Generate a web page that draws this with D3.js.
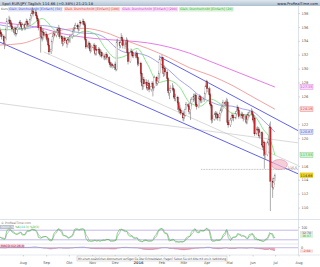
<!DOCTYPE html>
<html><head><meta charset="utf-8">
<script src="https://cdn.jsdelivr.net/npm/d3@7"></script>
<style>
body{margin:0;background:#fff;}
svg{display:block;font-family:"DejaVu Sans",sans-serif;}
</style></head><body>
<div id="chart"></div>
<script>
// daily EUR/JPY, Jul 2015 - Jun 2016 (one row per month)
const closes = [
 135.2,135.0,134.6,134.0,133.6,134.4,135.6,136.8,137.0,136.6,136.5,136.1,135.7,135.2,135.8,135.0,135.6,135.9,136.6,136.4,136.1,135.8,136.3,
 135.9,136.4,136.8,136.5,136.3,137.1,137.6,138.0,138.3,137.9,138.1,137.6,137.2,136.9,135.9,134.6,135.3,134.4,135.2,134.8,134.9,
 134.2,134.3,133.4,132.4,132.7,133.9,134.6,135.0,134.8,135.2,135.6,135.4,135.8,134.6,134.3,133.6,133.9,134.4,134.0,133.6,134.2,134.1,
 134.2,134.6,134.9,135.4,135.7,135.9,136.2,136.0,135.7,136.1,136.6,136.5,136.8,136.5,136.3,134.2,133.1,133.4,133.6,132.9,132.6,133.1,
 133.0,133.3,132.2,132.8,132.6,132.8,132.2,132.0,132.3,131.8,131.8,131.6,131.7,132.0,131.6,130.9,130.6,130.4,130.6,130.4,130.2,
 130.6,129.9,133.8,133.8,133.3,133.7,134.5,134.0,133.3,133.4,133.7,134.0,132.3,131.0,132.3,132.5,132.3,131.8,131.8,132.1,132.2,131.6,130.6,
 130.8,129.3,128.0,127.5,128.4,127.8,128.0,127.2,127.6,127.9,127.0,127.4,127.9,127.2,127.4,128.7,127.9,128.2,128.6,129.3,131.4,
 131.6,130.1,129.3,130.0,129.5,128.6,126.8,126.5,126.9,127.1,127.2,127.0,125.9,125.7,125.9,125.1,124.1,124.2,124.0,123.6,122.9,
 123.4,123.3,124.1,124.8,124.6,123.8,124.1,125.0,125.5,126.0,125.7,126.2,124.8,124.5,125.7,126.0,125.5,125.4,125.6,125.7,126.4,127.5,128.1,
 127.1,126.3,124.9,124.7,122.6,122.7,123.4,123.5,123.0,123.4,122.9,123.5,124.0,124.1,124.6,125.1,124.9,125.1,125.2,122.3,121.9,
 122.6,122.8,123.3,123.0,122.9,123.5,123.8,124.4,124.0,123.1,123.2,123.4,123.2,122.8,123.2,122.3,122.7,123.4,123.3,123.7,123.8,123.4,
 122.6,122.9,120.6,121.3,121.1,121.2,120.3,120.8,119.0,118.7,119.4,117.5,117.6,119.3,119.4,119.8,121.6,113.8,112.9,113.6,114.2,114.66
];
const highs = [
 135.9,135.6,135.3,134.9,134.3,134.7,135.9,137.3,137.6,137.4,137.0,136.9,136.4,135.9,136.1,136.0,135.9,136.3,136.9,137.0,136.7,136.4,136.6,
 136.6,136.7,137.2,137.1,136.9,137.4,137.9,138.5,138.8,138.6,138.5,138.4,137.9,137.5,137.1,136.2,136.1,135.8,135.7,135.6,135.4,
 135.2,134.8,134.6,133.7,133.0,134.2,135.0,135.4,135.3,135.5,135.9,135.9,136.3,136.0,134.9,134.6,134.3,134.7,134.6,134.2,134.5,134.5,
 134.6,135.0,135.2,135.7,136.0,136.3,136.6,136.5,136.2,136.4,137.0,136.9,137.2,137.1,136.8,136.7,134.5,133.8,134.0,133.8,133.2,133.4,
 133.5,133.7,133.5,133.1,133.4,133.1,133.0,132.5,132.7,132.5,132.2,132.0,132.1,132.4,132.2,131.8,131.2,130.9,130.9,130.8,130.7,
 131.0,130.8,134.2,134.3,134.0,134.0,135.1,134.8,134.3,133.9,134.1,134.5,134.3,132.9,132.6,132.9,132.8,132.5,132.0,132.4,132.6,132.4,131.8,
 131.0,131.0,129.6,128.3,128.8,128.8,128.5,128.3,128.0,128.4,128.1,127.8,128.2,128.1,127.9,129.0,128.9,128.6,129.1,129.7,131.9,
 132.0,131.7,130.4,130.5,130.3,129.8,128.8,127.3,127.0,127.6,127.9,127.6,127.2,126.3,126.4,126.1,125.3,124.6,124.8,124.4,124.0,
 123.8,123.8,124.4,125.2,125.1,124.8,124.4,125.6,125.9,126.4,126.3,126.5,126.4,125.2,126.0,126.3,126.2,125.8,125.9,126.0,126.7,127.7,128.4,
 128.3,127.4,126.5,125.3,125.0,123.3,123.7,123.9,123.8,123.8,123.6,123.8,124.4,124.6,125.1,125.5,125.3,125.5,125.8,125.6,122.6,
 122.9,123.2,123.6,123.5,123.4,123.8,124.2,124.8,124.6,124.2,123.6,123.8,123.7,123.4,123.5,123.4,123.0,123.7,123.7,124.0,124.3,124.1,
 123.6,123.2,123.3,121.6,121.7,121.6,121.5,121.1,121.0,119.4,119.7,119.6,118.0,119.6,119.8,120.2,122.1,122.4,114.3,113.9,114.5,114.9
];
const lows = [
 134.8,134.6,134.2,133.5,132.8,133.2,134.1,135.4,136.4,136.2,136.1,135.8,135.3,134.8,134.9,134.6,134.8,135.3,135.7,136.0,135.7,135.4,135.5,
 135.5,135.6,136.1,136.2,135.9,136.1,136.8,137.2,137.7,137.5,137.6,137.3,136.8,136.4,135.5,132.3,134.2,133.9,134.1,134.4,134.5,
 133.9,133.8,133.1,132.0,132.1,132.5,133.6,134.2,134.5,134.5,134.9,135.1,135.1,134.3,133.9,133.2,133.3,133.6,133.7,133.0,133.4,133.7,
 133.8,133.7,134.3,134.6,135.1,135.4,135.7,135.7,135.3,135.4,135.9,136.2,136.3,136.2,136.0,133.9,132.8,132.9,133.1,132.5,132.2,132.4,
 132.6,132.8,131.9,131.9,131.9,132.3,131.9,131.7,131.7,131.5,131.3,131.2,131.3,131.4,131.2,130.6,130.2,130.1,130.2,130.0,129.8,
 129.9,129.6,129.7,133.2,132.9,133.0,133.4,133.6,132.9,132.8,133.1,133.4,131.9,130.6,130.8,132.0,131.9,131.6,131.5,131.5,131.8,131.3,130.3,
 130.4,128.9,127.6,126.9,127.0,127.4,127.5,126.9,126.8,127.2,126.6,126.7,127.0,126.0,126.8,127.2,127.5,127.6,127.9,128.2,128.6,
 131.1,129.8,128.8,128.9,129.0,128.2,126.5,126.1,125.6,126.5,126.8,126.6,125.6,125.3,125.3,124.8,123.8,123.5,123.6,123.3,122.5,
 122.4,122.8,123.1,124.1,124.2,123.4,123.5,122.6,124.6,125.2,125.4,125.0,124.5,124.1,124.3,125.3,125.1,125.0,125.1,125.2,125.4,126.2,127.2,
 126.6,126.0,124.6,124.3,122.1,122.2,122.5,123.0,122.7,122.7,122.5,122.4,123.2,123.6,123.8,124.2,124.5,124.6,124.7,121.9,121.5,
 121.6,122.2,122.5,122.7,122.4,122.7,123.2,123.5,123.7,122.8,122.8,122.9,122.9,122.4,122.6,122.0,122.0,122.5,122.9,123.0,123.4,123.1,
 122.3,122.1,120.3,120.4,120.8,120.6,120.0,119.9,118.7,118.3,118.2,115.6,116.9,117.4,118.9,119.0,119.5,109.5,111.4,112.6,113.3,113.8
];
const firstOpen = 135.5;

// moving averages: [day index, value]
const sma20 = [[0,135.6],[10,135.6],[20,135.7],[30,136.3],[40,137.2],[50,135.8],[60,134.4],[70,134.6],[80,135.4],[90,135.0],[100,132.9],[110,131.5],[120,131.9],[130,132.9],[140,130.6],[150,128.0],[160,128.3],[170,127.4],[180,125.1],[190,124.6],[200,125.6],[210,124.8],[220,123.6],[230,123.4],[240,123.3],[250,121.2],[256,120.0],[261,117.55]];
const sma50 = [[0,136.3],[10,136.0],[20,135.7],[30,135.9],[40,136.2],[50,136.0],[60,135.7],[70,135.3],[80,135.1],[90,135.0],[100,134.4],[110,133.0],[120,132.3],[130,132.2],[140,131.8],[150,130.9],[160,129.8],[170,128.4],[180,127.3],[190,126.0],[200,125.2],[210,124.7],[220,124.6],[230,124.2],[240,123.8],[250,122.5],[261,120.87]];
const sma100 = [[0,133.4],[20,133.6],[40,134.6],[60,135.6],[80,135.8],[100,135.2],[120,134.0],[140,132.9],[160,131.6],[180,130.1],[200,129.0],[220,127.6],[240,125.9],[261,124.16]];
const sma200 = [[0,136.6],[20,136.3],[40,135.8],[60,135.0],[80,134.5],[100,134.2],[120,134.0],[140,133.7],[160,133.1],[180,132.2],[200,131.0],[220,129.8],[240,128.6],[261,127.35]];

// drawn trend lines [date, price]
const trendBlue = [
  [["2015-07-01",133.8],["2016-08-01",114.8]],
  [["2016-01-29",131.7],["2016-08-01",121.0]]
];
const trendGray = [
  [["2015-08-28",132.4],["2016-08-01",116.0]],
  [["2015-07-01",125.0],["2016-08-01",119.3]]
];
const supportLevel = {from:"2016-03-24", to:"2016-08-01", price:115.5};
const circleMark = {date:"2016-07-06", price:116.2};

const priceTicks = d3.range(110, 139, 2);
const monthLabels = ["Aug","Sep","Okt","Nov","Dez","2016","Feb","Mär","Apr","Mai","Jun","Jul","Aug"];
const legendItems = [
  {text:"Gleit. Durchschnitt [Einfach] (50)", color:"#4a4ad0", bg:"#dde3f5"},
  {text:"Gleit. Durchschnitt [Einfach] (100)", color:"#e03a3a", bg:"#f8dede"},
  {text:"Gleit. Durchschnitt [Einfach] (200)", color:"#d040d0", bg:"#f6dcf6"},
  {text:"Gleit. Durchschnitt [Einfach] (20)", color:"#2fb02f", bg:"#d8f2d8"}
];

const W = 320, H = 267;
const axisX = 298;
const svg = d3.select("#chart").append("svg").attr("width", W).attr("height", H);

const parse = d3.timeParse("%Y-%m-%d");
const days = d3.timeDay.range(new Date(2015,6,1), new Date(2016,6,1)).filter(d => d.getDay() > 0 && d.getDay() < 6);
const n = Math.min(days.length, closes.length, highs.length, lows.length);
const data = d3.range(n).map(i => ({
  date: days[i], o: i ? closes[i-1] : firstOpen, h: highs[i], l: lows[i], c: closes[i]
}));

const x = d3.scaleTime().domain([new Date(2015,6,1), new Date(2016,7,1)]).range([0, 299]);
const y = d3.scaleLinear().domain([110, 138]).range([207.6, 13]);

// header
const grad = svg.append("defs").append("linearGradient").attr("id","hg").attr("x2",0).attr("y2",1);
grad.append("stop").attr("offset",0).attr("stop-color","#dfe7ef");
grad.append("stop").attr("offset",1).attr("stop-color","#aebfd0");
svg.append("rect").attr("width", W).attr("height", 6).attr("fill","url(#hg)");
svg.append("text").attr("x", 2).attr("y", 4.6).attr("font-size", 3.8).attr("fill","#223")
  .text("Spot EUR/JPY    Täglich    114.66 (+0.38%)    21:21:18");
svg.append("text").attr("x", 318).attr("y", 4.6).attr("font-size", 3.6).attr("fill","#223")
  .attr("text-anchor","end").text("www.ProRealTime.com");

// main panel clip
svg.append("clipPath").attr("id","main").append("rect").attr("x",0).attr("y",6).attr("width",axisX).attr("height",213);
const g = svg.append("g").attr("clip-path","url(#main)");

// legend
let lx = 1;
svg.append("text").attr("x", lx).attr("y", 10.4).attr("font-size", 3.2).attr("fill","#666").text("Kurs");
lx = 8;
legendItems.forEach(it => {
  const t = svg.append("text").attr("x", lx + 1).attr("y", 10.4).attr("font-size", 3.2).attr("fill", it.color).text(it.text);
  const w = t.node().getComputedTextLength() + 2;
  svg.insert("rect", "text").attr("x", lx).attr("y", 7).attr("width", w).attr("height", 4.6).attr("fill", it.bg);
  lx += w + 1;
});

// trend lines
const lineD = d3.line().x(d => x(parse(d[0]))).y(d => y(d[1]));
trendGray.forEach(t => g.append("path").attr("d", lineD(t)).attr("stroke","#c8c8c8").attr("stroke-width",0.7).attr("fill","none"));
trendBlue.forEach(t => g.append("path").attr("d", lineD(t)).attr("stroke","#3a3ae8").attr("stroke-width",0.8).attr("fill","none"));

// support level dotted
g.append("line")
  .attr("x1", x(parse(supportLevel.from))).attr("x2", x(parse(supportLevel.to)))
  .attr("y1", y(supportLevel.price)).attr("y2", y(supportLevel.price))
  .attr("stroke","#888").attr("stroke-width",0.6).attr("stroke-dasharray","0.8,0.8");
svg.append("text").attr("x", axisX - 1).attr("y", y(supportLevel.price) - 0.8).attr("font-size", 3.2)
  .attr("fill","#555").attr("text-anchor","end").text(supportLevel.price.toFixed(1));

// moving averages
const maLine = d3.line().x(d => x(data[d[0]].date)).y(d => y(d[1])).curve(d3.curveMonotoneX);
[[sma200,"#e05ae0"],[sma100,"#f08a8a"],[sma50,"#8c8ce8"],[sma20,"#6fdc6f"]].forEach(([s,c]) =>
  g.append("path").attr("d", maLine(s)).attr("stroke", c).attr("stroke-width", 0.8).attr("fill","none"));

// candles
const cg = g.append("g");
cg.selectAll("line.wick").data(data).join("line")
  .attr("x1", d => x(d.date)).attr("x2", d => x(d.date))
  .attr("y1", d => y(d.h)).attr("y2", d => y(d.l))
  .attr("stroke","#8a8a8a").attr("stroke-width",0.7);
cg.selectAll("rect.body").data(data).join("rect")
  .attr("x", d => x(d.date) - 0.7).attr("width", 1.4)
  .attr("y", d => y(Math.max(d.o, d.c)))
  .attr("height", d => Math.max(0.6, Math.abs(y(d.o) - y(d.c))))
  .attr("fill", d => d.c < d.o ? "#c8282e" : "#ffffff")
  .attr("stroke", d => d.c < d.o ? "#7a1a1a" : "#7a7a7a").attr("stroke-width", 0.3);

// circle highlight
g.append("ellipse").attr("cx", x(parse(circleMark.date))).attr("cy", y(circleMark.price))
  .attr("rx", 8).attr("ry", 5).attr("fill","#f4b8c8").attr("fill-opacity",0.7)
  .attr("stroke","#d080a0").attr("stroke-width",0.5);

// panel borders
svg.append("line").attr("x1",0).attr("x2",W).attr("y1",219.5).attr("y2",219.5).attr("stroke","#c8d0da").attr("stroke-width",0.6);
svg.append("line").attr("x1",axisX+0.5).attr("x2",axisX+0.5).attr("y1",6).attr("y2",255).attr("stroke","#c8d0da").attr("stroke-width",0.6);

// value tags on axis
const last = data[n-1];
const tags = [
  [sma200[sma200.length-1][1], "#d040d0", "#f6dcf6"],
  [sma100[sma100.length-1][1], "#e03a3a", "#f8dede"],
  [sma50[sma50.length-1][1], "#4a4ad0", "#dde3f5"],
  [sma20[sma20.length-1][1], "#2fb02f", "#d8f2d8"],
  [last.c, "#333", "#f2d21c"]
];

// price axis (ticks hidden where a value tag sits)
const shownTicks = priceTicks.filter(t => !tags.some(tg => Math.abs(y(tg[0]) - y(t)) < 4.5));
const ya = svg.append("g").attr("transform", `translate(${axisX+0.5},0)`)
  .call(d3.axisRight(y).tickValues(shownTicks).tickSize(1.5).tickFormat(d3.format("d")));
ya.select(".domain").remove();
ya.selectAll("line").attr("stroke","#999").attr("stroke-width",0.4);
ya.selectAll("text").attr("x", 3).attr("font-size", 3.6).attr("fill","#555").attr("font-family","DejaVu Sans");

tags.forEach(([v, c, bg]) => {
  svg.append("rect").attr("x", axisX + 2).attr("y", y(v) - 2.3).attr("width", 13).attr("height", 4.6)
    .attr("fill", bg).attr("stroke", c === "#333" ? "#c8a800" : c).attr("stroke-width", 0.3);
  svg.append("text").attr("x", axisX + 8.5).attr("y", y(v) + 1.3).attr("font-size", 3.4)
    .attr("text-anchor","middle").attr("fill", c).text(v.toFixed(2));
});

// ---------- stochastic ----------
const rawK = data.map((d, i) => {
  const win = data.slice(Math.max(0, i - 13), i + 1);
  const hh = d3.max(win, e => e.h), ll = d3.min(win, e => e.l);
  return hh > ll ? (d.c - ll) / (hh - ll) * 100 : 50;
});
const sma = (arr, p) => arr.map((v, i) => d3.mean(arr.slice(Math.max(0, i - p + 1), i + 1)));
const kLine = sma(rawK, 3), dLine = sma(kLine, 3);
const ys = d3.scaleLinear().domain([0, 100]).range([243, 227]);
svg.append("text").attr("x", 1).attr("y", 223.6).attr("font-size", 3).attr("fill","#777").text("© ProRealTime.com");
svg.append("rect").attr("x",0).attr("y",225).attr("width",14).attr("height",4).attr("fill","#b9c3cc");
svg.append("text").attr("x",1).attr("y",228.2).attr("font-size",3).attr("fill","#fff").text("Stoch. %K");
svg.append("text").attr("x",15).attr("y",228.2).attr("font-size",3).attr("fill","#2fb02f").text("%K(14,3) %D(3)");
[80, 20].forEach(v => svg.append("line").attr("x1",0).attr("x2",axisX).attr("y1",ys(v)).attr("y2",ys(v))
  .attr("stroke","#9a8ae0").attr("stroke-width",0.6));
const sLine = arr => d3.line().x((d, i) => x(data[i].date)).y(d => ys(d))(arr);
svg.append("path").attr("d", sLine(dLine)).attr("stroke","#888").attr("stroke-width",0.5).attr("fill","none");
svg.append("path").attr("d", sLine(kLine)).attr("stroke","#3cc03c").attr("stroke-width",0.6).attr("fill","none");
const ysa = svg.append("g").attr("transform", `translate(${axisX+0.5},0)`)
  .call(d3.axisRight(ys).tickValues([100]).tickSize(1.5));
ysa.select(".domain").remove();
ysa.selectAll("line").attr("stroke","#999").attr("stroke-width",0.4);
ysa.selectAll("text").attr("x",3).attr("font-size",3.4).attr("fill","#555");
[[dLine[n-1],"#666","#e4e4e4"],[kLine[n-1],"#2fb02f","#d8f2d8"]].forEach(([v,c,bg],j) => {
  svg.append("rect").attr("x",axisX+2).attr("y",231+j*3.4).attr("width",13).attr("height",3.4).attr("fill",bg);
  svg.append("text").attr("x",axisX+8.5).attr("y",233.7+j*3.4).attr("font-size",3).attr("text-anchor","middle").attr("fill",c).text(v.toFixed(2));
});
svg.append("line").attr("x1",0).attr("x2",axisX).attr("y1",244).attr("y2",244).attr("stroke","#c8d0da").attr("stroke-width",0.5);

// ---------- MACD ----------
const ema = (arr, p) => { const k = 2 / (p + 1); let e = arr[0]; return arr.map(v => (e = v * k + e * (1 - k))); };
const e12 = ema(closes.slice(0, n), 12), e26 = ema(closes.slice(0, n), 26);
const macd = e12.map((v, i) => v - e26[i]);
const ym = d3.scaleLinear().domain([-4.6, 2]).range([254, 245]);
svg.append("rect").attr("x",0).attr("y",244.5).attr("width",24).attr("height",3.6).attr("fill","#f3c6cf");
svg.append("text").attr("x",1).attr("y",247.4).attr("font-size",3).attr("fill","#c03050").text("MACD (12,26,9)");
svg.append("line").attr("x1",0).attr("x2",axisX).attr("y1",ym(0)).attr("y2",ym(0)).attr("stroke","#9a8ae0").attr("stroke-width",0.6);
const area = d3.area().x((d, i) => x(data[i].date)).y0(ym(0));
svg.append("path").attr("d", area.y1(d => ym(Math.min(0, d)))(macd)).attr("fill","#f0a2b4");
svg.append("path").attr("d", area.y1(d => ym(Math.max(0, d)))(macd)).attr("fill","#c4b8ee");
svg.append("path").attr("d", d3.line().x((d, i) => x(data[i].date)).y(d => ym(d))(macd))
  .attr("stroke","#7a6a9a").attr("stroke-width",0.4).attr("fill","none");
svg.append("text").attr("x",axisX+3).attr("y",ym(0)+1.2).attr("font-size",3.4).attr("fill","#555").text("0");
svg.append("rect").attr("x",axisX+2).attr("y",ym(0)+1.6).attr("width",13).attr("height",3.4).attr("fill","#f8dede");
svg.append("text").attr("x",axisX+8.5).attr("y",ym(0)+4.3).attr("font-size",3).attr("text-anchor","middle").attr("fill","#e03a3a").text(macd[n-1].toFixed(2));
svg.append("line").attr("x1",0).attr("x2",W).attr("y1",255).attr("y2",255).attr("stroke","#c8d0da").attr("stroke-width",0.5);

// ---------- time axis ----------
const months = d3.timeMonth.range(new Date(2015,7,1), new Date(2016,7,2));
const xa = svg.append("g").attr("transform","translate(0,255)");
xa.selectAll("line").data(months).join("line")
  .attr("x1", d => x(d)).attr("x2", d => x(d)).attr("y1", 0).attr("y2", 1.5)
  .attr("stroke","#999").attr("stroke-width",0.4);
xa.selectAll("text").data(months).join("text")
  .attr("x", d => x(d)).attr("y", 9).attr("text-anchor","middle").attr("font-size",3.6)
  .attr("fill","#555").attr("font-weight",(d,i) => monthLabels[i] === "2016" ? "bold" : null)
  .text((d, i) => monthLabels[i]);

// subscription notice
svg.append("rect").attr("x",77).attr("y",256).attr("width",150).attr("height",5)
  .attr("fill","#fff").attr("stroke","#aaa").attr("stroke-width",0.4);
svg.append("text").attr("x",78).attr("y",259.6).attr("font-size",3.2).attr("fill","#444")
  .attr("textLength",148).attr("lengthAdjust","spacingAndGlyphs")
  .text("Mit einem zusätzlichen Abonnement verfügen Sie über Echtzeitdaten. Fragen? Setzen Sie sich bitte mit uns in Verbindung");
</script>
</body></html>
